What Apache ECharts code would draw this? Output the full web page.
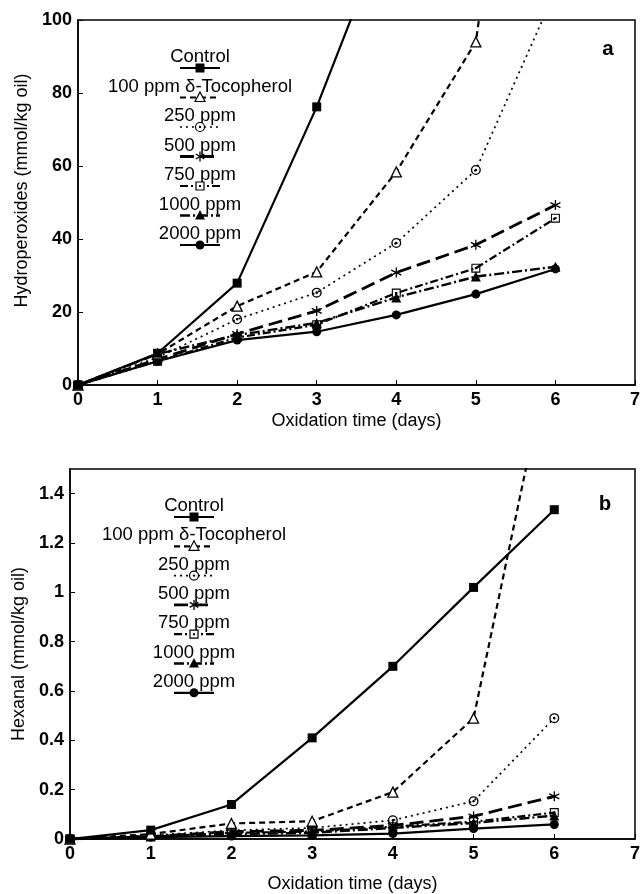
<!DOCTYPE html>
<html>
<head>
<meta charset="utf-8">
<script src="https://cdn.jsdelivr.net/npm/echarts@6/dist/echarts.min.js"></script>
<style>
html,body{margin:0;padding:0;background:#fff;}
#chart{width:643px;height:894px;}
</style>
</head>
<body>
<div id="chart"></div>
<script>
// ---------- data ----------
const days = [0, 1, 2, 3, 4, 5, 6];
const seriesNames = ['Control', '100 ppm δ-Tocopherol', '250 ppm', '500 ppm', '750 ppm', '1000 ppm', '2000 ppm'];
const xTicks = [0, 1, 2, 3, 4, 5, 6, 7];

// panel a: hydroperoxides (mmol/kg oil)
const hpControl = [0, 8.7, 27.9, 76.2, 132];
const hpToco100 = [0, 8.5, 21.6, 31.0, 58.4, 94.0, 250];
const hp250 = [0, 7.5, 18.0, 25.3, 38.9, 58.9, 108];
const hp500 = [0, 7.0, 14.0, 20.3, 30.8, 38.4, 49.3];
const hp750 = [0, 6.5, 13.0, 16.5, 25.2, 32.0, 45.7];
const hp1000 = [0, 8.5, 13.7, 17.0, 24.0, 29.7, 32.4];
const hp2000 = [0, 6.5, 12.3, 14.6, 19.2, 24.9, 31.8];

// panel b: hexanal (mmol/kg oil)
const hxControl = [0, 0.036, 0.14, 0.41, 0.70, 1.02, 1.335];
const hxToco100 = [0, 0.02, 0.063, 0.072, 0.19, 0.49, 2.05];
const hx250 = [0, 0.015, 0.035, 0.045, 0.076, 0.153, 0.49];
const hx500 = [0, 0.01, 0.03, 0.035, 0.055, 0.092, 0.173];
const hx750 = [0, 0.01, 0.025, 0.03, 0.05, 0.07, 0.107];
const hx1000 = [0, 0.01, 0.02, 0.025, 0.045, 0.065, 0.095];
const hx2000 = [0, 0.008, 0.012, 0.015, 0.022, 0.042, 0.059];

// ---------- styles ----------
const FONT = 'Liberation Sans';
const ringDot = 'path://M10,0A10,10 0 1,1 -10,0A10,10 0 1,1 10,0Z M7.3,0A7.3,7.3 0 1,0 -7.3,0A7.3,7.3 0 1,0 7.3,0Z M2.6,0A2.6,2.6 0 1,1 -2.6,0A2.6,2.6 0 1,1 2.6,0Z';
const squareDot = 'path://M-10,-10H10V10H-10Z M-7.5,7.5H7.5V-7.5H-7.5Z M-2.5,-2.5H2.5V2.5H-2.5Z';
const asterisk = 'path://M0,-10L0,10M-8.7,-5L8.7,5M-8.7,5L8.7,-5';

const styles = [
  {kind: 'sq', symbol: 'rect', size: 9, dash: 'solid', width: 2.2},
  {kind: 'tri', symbol: 'triangle', size: 10, dash: [6, 4], width: 2.2},
  {kind: 'ring', symbol: ringDot, size: 10, dash: [2, 4], width: 1.7},
  {kind: 'ast', symbol: asterisk, size: 10, dash: [14, 6], width: 2.8},
  {kind: 'sqdot', symbol: squareDot, size: 9, dash: [8, 3, 2, 3], width: 2.2},
  {kind: 'ftri', symbol: 'triangle', size: 10, dash: [10, 3, 2, 3], width: 2.4},
  {kind: 'circ', symbol: 'circle', size: 9, dash: 'solid', width: 2.2}
];

function pairs(vals) { return vals.map((v, i) => [days[i], v]); }

function makeSeries(valsList, axisIdx) {
  return valsList.map((vals, i) => {
    const s = styles[i];
    const openShape = (s.kind === 'tri');
    return {
      name: seriesNames[i],
      type: 'line',
      xAxisIndex: axisIdx, yAxisIndex: axisIdx,
      data: pairs(vals),
      clip: true,
      symbol: s.symbol,
      symbolSize: s.size,
      showAllSymbol: true,
      lineStyle: {color: '#000', width: s.width, type: s.dash},
      itemStyle: {
        color: openShape ? '#fff' : '#000',
        borderColor: '#000',
        borderWidth: (openShape || s.kind === 'ast') ? 1.3 : 0
      },
      emphasis: {disabled: true},
      animation: false,
      z: 10 - i
    };
  });
}

// legend built from primitives (text above, sample line below)
function markerEls(kind, cx, cy) {
  const k = '#000';
  switch (kind) {
    case 'sq': return [{type: 'rect', shape: {x: cx - 4.5, y: cy - 4.5, width: 9, height: 9}, style: {fill: k}}];
    case 'tri': return [{type: 'polygon', shape: {points: [[cx, cy - 5.5], [cx + 5, cy + 4], [cx - 5, cy + 4]]}, style: {fill: '#fff', stroke: k, lineWidth: 1.2}}];
    case 'ring': return [{type: 'circle', shape: {cx: cx, cy: cy, r: 4.5}, style: {fill: '#fff', stroke: k, lineWidth: 1.2}},
                         {type: 'circle', shape: {cx: cx, cy: cy, r: 1.2}, style: {fill: k}}];
    case 'ast': return [
      {type: 'line', shape: {x1: cx, y1: cy - 5, x2: cx, y2: cy + 5}, style: {stroke: k, lineWidth: 1.3}},
      {type: 'line', shape: {x1: cx - 4.3, y1: cy - 2.5, x2: cx + 4.3, y2: cy + 2.5}, style: {stroke: k, lineWidth: 1.3}},
      {type: 'line', shape: {x1: cx - 4.3, y1: cy + 2.5, x2: cx + 4.3, y2: cy - 2.5}, style: {stroke: k, lineWidth: 1.3}}];
    case 'sqdot': return [{type: 'rect', shape: {x: cx - 4, y: cy - 4, width: 8, height: 8}, style: {fill: '#fff', stroke: k, lineWidth: 1.2}},
                          {type: 'rect', shape: {x: cx - 1, y: cy - 1, width: 2, height: 2}, style: {fill: k}}];
    case 'ftri': return [{type: 'polygon', shape: {points: [[cx, cy - 5.5], [cx + 5, cy + 4], [cx - 5, cy + 4]]}, style: {fill: k}}];
    case 'circ': return [{type: 'circle', shape: {cx: cx, cy: cy, r: 4.5}, style: {fill: k}}];
  }
  return [];
}

function legendEls(cx, y0, step) {
  const els = [];
  seriesNames.forEach((name, i) => {
    const y = y0 + i * step;
    const s = styles[i];
    els.push({type: 'text', x: cx, y: y, z: 100,
      style: {text: name, fontSize: 18.5, fontFamily: FONT, fill: '#000', align: 'center', verticalAlign: 'middle'}});
    els.push({type: 'line', z: 100, shape: {x1: cx - 20, y1: y + 11, x2: cx + 20, y2: y + 11},
      style: {stroke: '#000', lineWidth: s.width, lineDash: s.dash === 'solid' ? null : s.dash}});
    markerEls(s.kind, cx, y + 11).forEach(e => { e.z = 101; els.push(e); });
  });
  return els;
}

const axisLabelStyle = {fontSize: 18, fontWeight: 'bold', fontFamily: FONT, color: '#000'};
const axisNameStyle = {fontSize: 18, fontFamily: FONT, color: '#000'};

function xAxisDef(idx) {
  return {
    type: 'value', gridIndex: idx, min: xTicks[0], max: xTicks[xTicks.length - 1], interval: 1,
    name: 'Oxidation time (days)', nameLocation: 'middle', nameGap: idx === 0 ? 27 : 36,
    nameTextStyle: axisNameStyle,
    axisLine: {show: true, lineStyle: {color: '#000', width: 1.5}},
    axisTick: {show: true, inside: true, length: 5, lineStyle: {color: '#000'}},
    axisLabel: Object.assign({margin: 6}, axisLabelStyle),
    splitLine: {show: false}
  };
}

const option = {
  backgroundColor: '#fff',
  animation: false,
  grid: [
    {left: 78, right: 4, top: 20, height: 365, show: true, borderColor: '#000', borderWidth: 1.5, containLabel: false},
    {left: 70, right: 6, top: 469, height: 373, show: true, borderColor: '#000', borderWidth: 1.5, containLabel: false}
  ],
  xAxis: [xAxisDef(0), xAxisDef(1)],
  yAxis: [
    {type: 'value', gridIndex: 0, min: 0, max: 100, interval: 20,
      name: 'Hydroperoxides (mmol/kg oil)', nameLocation: 'middle', nameGap: 47, nameTextStyle: Object.assign({padding: [0, 0, 0, 24]}, axisNameStyle),
      axisLine: {show: true, lineStyle: {color: '#000', width: 1.5}},
      axisTick: {show: true, inside: true, length: 5, lineStyle: {color: '#000'}},
      axisLabel: Object.assign({margin: 6}, axisLabelStyle), splitLine: {show: false}},
    {type: 'value', gridIndex: 1, min: 0, max: 1.5, interval: 0.2,
      name: 'Hexanal (mmol/kg oil)', nameLocation: 'middle', nameGap: 39, nameTextStyle: axisNameStyle,
      axisLine: {show: true, lineStyle: {color: '#000', width: 1.5}},
      axisTick: {show: true, inside: true, length: 5, lineStyle: {color: '#000'}},
      axisLabel: Object.assign({margin: 6, showMaxLabel: false}, axisLabelStyle), splitLine: {show: false}}
  ],
  series: [].concat(
    makeSeries([hpControl, hpToco100, hp250, hp500, hp750, hp1000, hp2000], 0),
    makeSeries([hxControl, hxToco100, hx250, hx500, hx750, hx1000, hx2000], 1)
  ),
  graphic: [].concat(
    legendEls(200, 57, 29.5),
    legendEls(194, 506, 29.3),
    [
      {type: 'text', x: 608, y: 50, z: 100, style: {text: 'a', fontSize: 21, fontWeight: 'bold', fontFamily: 'Liberation Mono', fill: '#000', align: 'center', verticalAlign: 'middle'}},
      {type: 'text', x: 605, y: 505, z: 100, style: {text: 'b', fontSize: 21, fontWeight: 'bold', fontFamily: 'Liberation Mono', fill: '#000', align: 'center', verticalAlign: 'middle'}}
    ]
  )
};

const chart = echarts.init(document.getElementById('chart'), null, {renderer: 'canvas'});
chart.setOption(option);
</script>
</body>
</html>
